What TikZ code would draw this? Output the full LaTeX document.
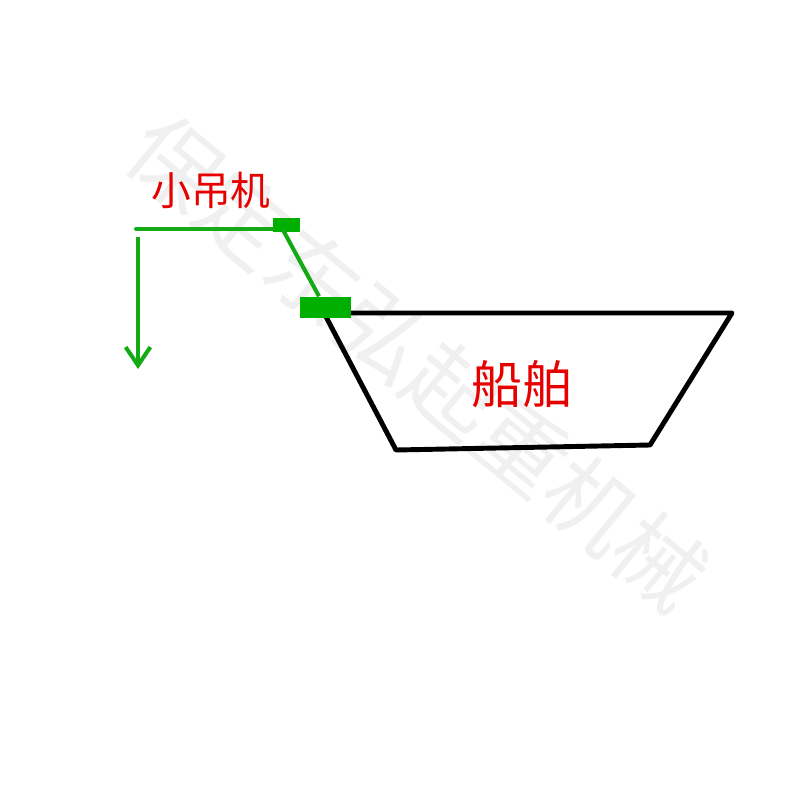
\documentclass[tikz,border=0pt]{standalone}
\usepackage{fontspec}
\setmainfont{Noto Sans CJK SC}
\usepackage{tikz}
\usetikzlibrary{arrows.meta, positioning, calc}
\definecolor{craneGreen}{RGB}{20,170,20}
\definecolor{blockGreen}{RGB}{0,175,0}
\definecolor{labelRed}{RGB}{230,0,0}
\tikzset{
    craneline/.style={craneGreen,line width=1.15pt},
    craneblock/.style={rectangle,fill=blockGreen,draw=none,inner sep=0pt},
    hullline/.style={black,line width=1.4pt,line join=round,line cap=round},
    redlabel/.style={labelRed,inner sep=0pt}
}

\begin{document}
\begin{tikzpicture}[x=0.01cm,y=-0.01cm]
    % Hintergrund
    \fill[white] (0,0) rectangle (800,800);
    \useasboundingbox (0,0) rectangle (800,800);
    \node[rotate=-39.5,text=black!6,font=\fontsize{25.5}{25.5}\selectfont,inner sep=0pt] (mark) at (418,362) {保定东弘起重机械};

    % Schiff
    \coordinate (bowtop) at (324,313);
    \coordinate (sterntop) at (732,313);
    \coordinate (sternbot) at (650,445);
    \coordinate (bowbot) at (396,450);
    \draw[hullline] (bowtop) -- (sterntop) -- (sternbot) -- (bowbot) -- cycle;
    \node[redlabel,font=\fontsize{14.5}{14.5}\selectfont] (ship) at (522,384) {船舶};

    % Kran
    \coordinate (jibend) at (136,229);
    \coordinate (ropetop) at (138,237);
    \coordinate (ropebot) at (138,369);
    \node[craneblock,minimum width=0.27cm,minimum height=0.14cm] (topblock) at (286.5,225) {};
    \node[craneblock,minimum width=0.51cm,minimum height=0.21cm] (deckblock) at (325.5,307.5) {};
    \draw[craneline,line cap=round] (jibend) -- (jibend -| topblock.west);
    \draw[craneline] (283,230) -- (deckblock.north -| 319,0);
    \draw[craneline,-{Straight Barb[length=5.2pt,width=7pt,line width=1.15pt]}] (ropetop) -- (ropebot);
    \node[redlabel,font=\fontsize{11.3}{11.3}\selectfont] (crane) at (211,190) {小吊机};
\end{tikzpicture}
\end{document}
